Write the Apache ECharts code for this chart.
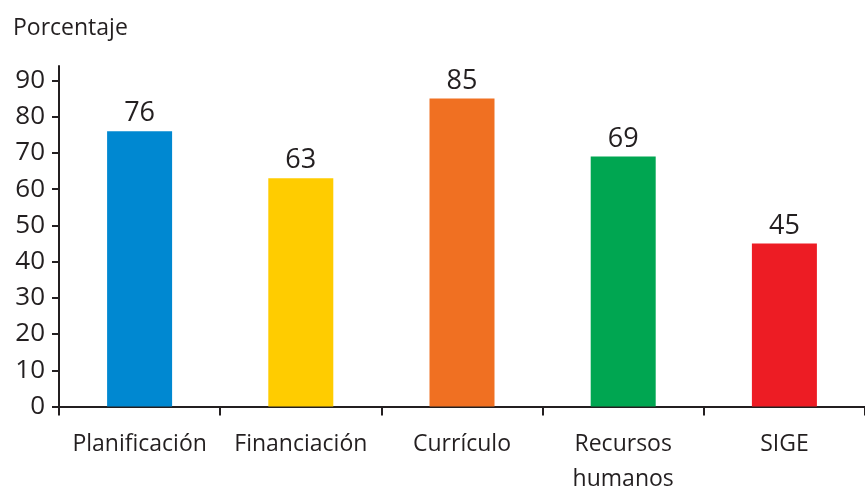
<!DOCTYPE html>
<html><head><meta charset="utf-8">
<script src="https://cdn.jsdelivr.net/npm/echarts@6/dist/echarts.min.js"></script>
<style>html,body{margin:0;padding:0;background:#fff}#c{width:865px;height:488px}</style>
</head><body><div id="c"></div>
<script>
const categories = ['Planificación', 'Financiación', 'Currículo', 'Recursos\nhumanos', 'SIGE'];
const values = [76, 63, 85, 69, 45];
const barColors = ['#0088d1', '#ffcc00', '#f07022', '#00a651', '#ed1c24'];
const yTicks = [0, 10, 20, 30, 40, 50, 60, 70, 80, 90];
const yTitle = 'Porcentaje';

const FONT = '"Open Sans", "Noto Sans", sans-serif';
const TXT = '#231f20';
const chart = echarts.init(document.getElementById('c'), null, {renderer: 'canvas'});
chart.setOption({
  animation: false,
  backgroundColor: '#fff',
  title: {text: yTitle, left: 8, top: 12, textStyle: {fontFamily: FONT, fontSize: 23, fontWeight: 'normal', color: TXT}},
  grid: {left: 59, right: 0, top: 66, bottom: 81.5, containLabel: false, outerBoundsMode: 'none'},
  xAxis: {
    type: 'category', data: categories,
    axisLine: {lineStyle: {color: TXT, width: 2}},
    axisTick: {show: true, length: 9, lineStyle: {color: TXT, width: 2}, alignWithLabel: false},
    axisLabel: {fontFamily: FONT, fontSize: 23, color: TXT, margin: 20, lineHeight: 35, interval: 0}
  },
  yAxis: {
    type: 'value', min: 0, max: 94,
    axisLine: {show: true, lineStyle: {color: TXT, width: 2}},
    axisTick: {show: true, length: 7, lineStyle: {color: TXT, width: 2}, customValues: yTicks},
    axisLabel: {fontFamily: FONT, fontSize: 26, color: TXT, margin: 14, customValues: yTicks},
    splitLine: {show: false}
  },
  series: [{
    type: 'bar', barWidth: 65,
    data: values.map((v, i) => ({value: v, itemStyle: {color: barColors[i]}})),
    label: {show: true, position: 'top', distance: 4, fontFamily: FONT, fontSize: 27, color: TXT}
  }]
});
</script></body></html>
